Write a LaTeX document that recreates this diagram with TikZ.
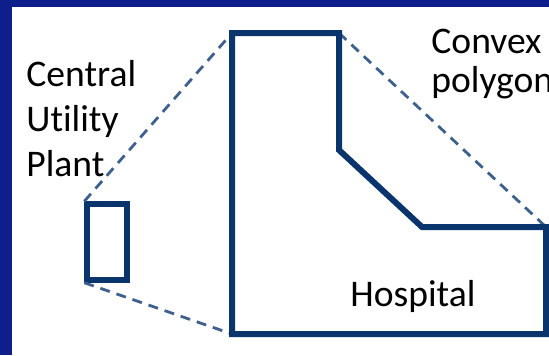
\documentclass[tikz,border=0pt]{standalone}
\usepackage{fontspec}
\setmainfont{Carlito}[Ligatures=NoCommon]
\usepackage{xcolor}
\usetikzlibrary{positioning}

\definecolor{frameblue}{RGB}{14,30,138}
\definecolor{navy}{RGB}{10,52,108}
\definecolor{steel}{RGB}{62,96,140}

\begin{document}
\begin{tikzpicture}[
		x=0.5pt, y=-0.5pt,
		outline/.style={draw=navy, line width=3pt},
		plantbox/.style={rectangle, outline, line width=2.7pt, inner sep=0pt,
			minimum width=20pt, minimum height=38pt},
		zoomline/.style={draw=steel, line width=1.4pt, dash pattern=on 5pt off 3.5pt},
		label/.style={inner sep=0pt, anchor=base west, align=left,
			font=\fontsize{18.8}{22.5}\selectfont}
		]
		
		% Frame and white canvas
		\useasboundingbox (0,0) rectangle (549,355);
		\clip (0,0) rectangle (549,355);
		\fill[frameblue] (0,0) rectangle (549,355);
		\fill[white] (12,7) rectangle (549,355);
		
		% Central utility plant (small box)
		\node[plantbox] (plant) at (107,242) {};
		
		% Hospital corners
		\coordinate (h1) at (232,33);
		\coordinate (h2) at (339,33);
		\coordinate (h3) at (339,150);
		\coordinate (h4) at (422,227);
		\coordinate (h5) at (546,227);
		\coordinate (h6) at (546,334);
		\coordinate (h7) at (232,334);
		
		% Zoom lines
		\draw[zoomline] (plant.north west) -- (h1);
		\draw[zoomline] (plant.south west) -- (h7);
		\draw[zoomline] (h2) -- (h5);
		
		% Hospital outline
		\draw[outline] (h1) -- (h2) -- (h3) -- (h4) -- (h5) -- (h6) -- (h7) -- cycle;
		
		% Labels (anchored at the baseline of the last line)
		\node[label] (plantlabel) at (26,176) {Central\\Utility\\Plant};
		\node[label, font=\fontsize{18.8}{19.5}\selectfont] (convexlabel) at (431,92) {Convex\\polygon};
		\node[label] (hospitallabel) at (350,306) {Hospital};
		
	\end{tikzpicture}
\end{document}
